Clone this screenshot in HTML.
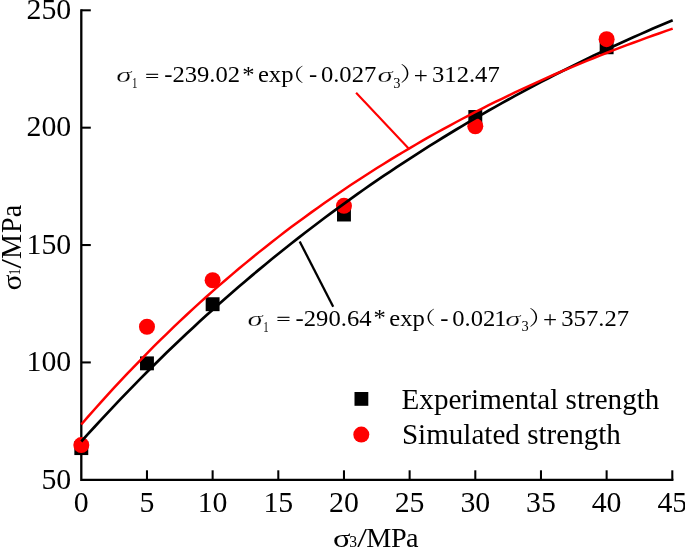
<!DOCTYPE html>
<html><head><meta charset="utf-8"><title>Strength fit</title>
<style>
html,body{margin:0;padding:0;background:#fff;}
body{width:685px;height:547px;overflow:hidden;}
svg{display:block;}
text{font-family:"Liberation Serif","Noto Serif CJK SC",serif;fill:#000;}
.tk{font-size:29.8px;}
.eq{font-size:22.6px;}
.it{font-style:italic;}
.sub{font-size:14px;}
.lg{font-size:29.1px;}
</style></head><body>
<svg width="685" height="547" viewBox="0 0 685 547">
<rect width="685" height="547" fill="#fff"/>
<g stroke="#000" stroke-width="2.3" fill="none" stroke-linecap="butt">
<path d="M81.30,9.15 V479.80 H673.45" stroke-linejoin="miter"/>
<path d="M146.97,479.80 v-9.5" stroke-width="2.05"/>
<path d="M212.63,479.80 v-9.5" stroke-width="2.05"/>
<path d="M278.30,479.80 v-9.5" stroke-width="2.05"/>
<path d="M343.97,479.80 v-9.5" stroke-width="2.05"/>
<path d="M409.63,479.80 v-9.5" stroke-width="2.05"/>
<path d="M475.30,479.80 v-9.5" stroke-width="2.05"/>
<path d="M540.97,479.80 v-9.5" stroke-width="2.05"/>
<path d="M606.63,479.80 v-9.5" stroke-width="2.05"/>
<path d="M672.30,479.80 v-9.5" stroke-width="2.05"/>
<path d="M81.30,362.43 h9.5" stroke-width="2.05"/>
<path d="M81.30,245.05 h9.5" stroke-width="2.05"/>
<path d="M81.30,127.68 h9.5" stroke-width="2.05"/>
<path d="M81.30,10.30 h9.5" stroke-width="2.05"/>
</g>
<path d="M356.1,92.8 L408.4,148.3" stroke="#f00" stroke-width="2.1" fill="none"/>
<path d="M299.7,241.5 L333.2,306.8" stroke="#000" stroke-width="2.3" fill="none"/>
<rect x="74.35" y="441.16" width="13.9" height="13.9" fill="#000"/>
<rect x="140.02" y="356.41" width="13.9" height="13.9" fill="#000"/>
<rect x="205.68" y="297.26" width="13.9" height="13.9" fill="#000"/>
<rect x="337.02" y="207.58" width="13.9" height="13.9" fill="#000"/>
<rect x="468.35" y="110.04" width="13.9" height="13.9" fill="#000"/>
<rect x="599.68" y="40.32" width="13.9" height="13.9" fill="#000"/>
<circle cx="81.30" cy="445.10" r="8.0" fill="#f00"/>
<circle cx="146.97" cy="326.74" r="8.0" fill="#f00"/>
<circle cx="212.63" cy="280.26" r="8.0" fill="#f00"/>
<circle cx="343.97" cy="205.85" r="8.0" fill="#f00"/>
<circle cx="475.30" cy="126.27" r="8.0" fill="#f00"/>
<circle cx="606.63" cy="39.17" r="8.0" fill="#f00"/>
<path d="M81.30,441.51 L87.87,434.22 L94.44,427.00 L101.01,419.87 L107.58,412.81 L114.16,405.82 L120.73,398.91 L127.30,392.08 L133.87,385.32 L140.44,378.63 L147.01,372.02 L153.58,365.47 L160.15,359.00 L166.72,352.59 L173.29,346.26 L179.87,339.99 L186.44,333.80 L193.01,327.66 L199.58,321.60 L206.15,315.60 L212.72,309.66 L219.29,303.79 L225.86,297.99 L232.43,292.24 L239.01,286.56 L245.58,280.94 L252.15,275.37 L258.72,269.87 L265.29,264.43 L271.86,259.05 L278.43,253.72 L285.00,248.46 L291.57,243.25 L298.14,238.09 L304.72,232.99 L311.29,227.95 L317.86,222.96 L324.43,218.02 L331.00,213.14 L337.57,208.31 L344.14,203.54 L350.71,198.81 L357.28,194.13 L363.85,189.51 L370.43,184.94 L377.00,180.41 L383.57,175.93 L390.14,171.51 L396.71,167.13 L403.28,162.79 L409.85,158.51 L416.42,154.27 L422.99,150.07 L429.57,145.92 L436.14,141.82 L442.71,137.76 L449.28,133.74 L455.85,129.77 L462.42,125.84 L468.99,121.95 L475.56,118.11 L482.13,114.30 L488.70,110.54 L495.28,106.82 L501.85,103.14 L508.42,99.49 L514.99,95.89 L521.56,92.33 L528.13,88.80 L534.70,85.31 L541.27,81.86 L547.84,78.45 L554.42,75.07 L560.99,71.74 L567.56,68.43 L574.13,65.16 L580.70,61.93 L587.27,58.73 L593.84,55.57 L600.41,52.44 L606.98,49.35 L613.55,46.28 L620.13,43.25 L626.70,40.26 L633.27,37.29 L639.84,34.36 L646.41,31.46 L652.98,28.59 L659.55,25.76 L666.12,22.95 L672.69,20.17" stroke="#000" stroke-width="2.7" fill="none"/>
<path d="M81.30,424.49 L87.87,416.93 L94.44,409.48 L101.01,402.12 L107.58,394.86 L114.16,387.70 L120.73,380.64 L127.30,373.67 L133.87,366.79 L140.44,360.01 L147.01,353.32 L153.58,346.72 L160.15,340.20 L166.72,333.78 L173.29,327.44 L179.87,321.18 L186.44,315.02 L193.01,308.93 L199.58,302.92 L206.15,297.00 L212.72,291.16 L219.29,285.39 L225.86,279.70 L232.43,274.09 L239.01,268.56 L245.58,263.10 L252.15,257.71 L258.72,252.39 L265.29,247.15 L271.86,241.98 L278.43,236.87 L285.00,231.84 L291.57,226.87 L298.14,221.97 L304.72,217.14 L311.29,212.37 L317.86,207.66 L324.43,203.02 L331.00,198.44 L337.57,193.92 L344.14,189.46 L350.71,185.07 L357.28,180.73 L363.85,176.45 L370.43,172.23 L377.00,168.06 L383.57,163.95 L390.14,159.90 L396.71,155.90 L403.28,151.95 L409.85,148.06 L416.42,144.22 L422.99,140.43 L429.57,136.70 L436.14,133.01 L442.71,129.37 L449.28,125.78 L455.85,122.24 L462.42,118.75 L468.99,115.30 L475.56,111.90 L482.13,108.55 L488.70,105.24 L495.28,101.98 L501.85,98.76 L508.42,95.58 L514.99,92.45 L521.56,89.36 L528.13,86.31 L534.70,83.30 L541.27,80.33 L547.84,77.40 L554.42,74.51 L560.99,71.66 L567.56,68.85 L574.13,66.07 L580.70,63.34 L587.27,60.64 L593.84,57.97 L600.41,55.34 L606.98,52.75 L613.55,50.19 L620.13,47.67 L626.70,45.18 L633.27,42.72 L639.84,40.30 L646.41,37.91 L652.98,35.55 L659.55,33.23 L666.12,30.93 L672.69,28.67" stroke="#f00" stroke-width="2.5" fill="none"/>
<text class="tk" x="81.30" y="512.3" text-anchor="middle">0</text>
<text class="tk" x="146.97" y="512.3" text-anchor="middle">5</text>
<text class="tk" x="212.63" y="512.3" text-anchor="middle">10</text>
<text class="tk" x="278.30" y="512.3" text-anchor="middle">15</text>
<text class="tk" x="343.97" y="512.3" text-anchor="middle">20</text>
<text class="tk" x="409.63" y="512.3" text-anchor="middle">25</text>
<text class="tk" x="475.30" y="512.3" text-anchor="middle">30</text>
<text class="tk" x="540.97" y="512.3" text-anchor="middle">35</text>
<text class="tk" x="606.63" y="512.3" text-anchor="middle">40</text>
<text class="tk" x="672.30" y="512.3" text-anchor="middle">45</text>
<text class="tk" x="71.2" y="488.50" text-anchor="end">50</text>
<text class="tk" x="71.2" y="371.12" text-anchor="end">100</text>
<text class="tk" x="71.2" y="253.75" text-anchor="end">150</text>
<text class="tk" x="71.2" y="136.38" text-anchor="end">200</text>
<text class="tk" x="71.2" y="19.00" text-anchor="end">250</text>
<text transform="translate(333.00,546.90) scale(1.09,0.87)" font-size="29.8">σ</text>
<text transform="translate(349.30,546.90) scale(0.95,1.0)" font-size="16.5">3</text>
<text transform="translate(357.30,546.90) scale(1.25,1.0)" font-size="28.2">/</text>
<text transform="translate(366.30,546.90) scale(1.0,1.0)" font-size="28.2">M<tspan dx="-0.5">P</tspan><tspan dx="-0.6">a</tspan></text>
<text transform="translate(20.60,290.60) rotate(-90) scale(1.0,0.9)" font-size="29.8">σ</text>
<text transform="translate(20.40,275.00) rotate(-90) scale(0.75,1.0)" font-size="16.3">1</text>
<text transform="translate(20.60,268.60) rotate(-90) scale(1.2,1.06)" font-size="28.2">/</text>
<text transform="translate(20.60,259.00) rotate(-90) scale(1.0,1.06)" font-size="28.2">M<tspan dx="1.0">P</tspan>a</text>
<rect x="354.5" y="392" width="13.8" height="13.8" fill="#000"/>
<circle cx="361.3" cy="434.6" r="8" fill="#f00"/>
<text class="lg" x="401.6" y="409">Experimental strength</text>
<text class="lg" x="401.9" y="444">Simulated strength</text>
<text transform="translate(116.20,82.20) scale(1.36,0.95)" font-size="22.6" font-style="italic" stroke="#fff" stroke-width="0.25">σ</text>
<text transform="translate(131.90,88.00) scale(0.72,1.0)" font-size="15">1</text>
<text transform="translate(145.20,81.55) scale(1.053,0.72)" font-size="23.4" stroke="#000" stroke-width="0.35">=</text>
<text transform="translate(164.20,82.00) scale(1.053,1.0)" font-size="23.4">-239.02</text>
<text transform="translate(242.20,81.60) scale(1.053,1.0)" font-size="23.4">*</text>
<text transform="translate(257.90,82.00) scale(1.053,1.0)" font-size="23.4">exp</text>
<text transform="translate(281.10,80.80) scale(1.25,1.0)" font-size="18.5">（</text>
<text transform="translate(308.90,82.00) scale(1.053,1.0)" font-size="23.4">-</text>
<text transform="translate(320.90,82.00) scale(1.053,1.0)" font-size="23.4">0.027</text>
<text transform="translate(377.50,82.20) scale(1.36,0.95)" font-size="22.6" font-style="italic" stroke="#fff" stroke-width="0.25">σ</text>
<text transform="translate(393.30,87.80) scale(1.0,1.0)" font-size="14.4">3</text>
<text transform="translate(400.00,81.30) scale(1.2,1.0)" font-size="20">）</text>
<text transform="translate(413.70,83.30) scale(1.07,1.0)" font-size="23.4">+</text>
<text transform="translate(432.00,82.00) scale(1.053,1.0)" font-size="23.4">312.47</text>
<text transform="translate(247.60,325.70) scale(1.36,0.95)" font-size="22.6" font-style="italic" stroke="#fff" stroke-width="0.25">σ</text>
<text transform="translate(263.30,331.50) scale(0.72,1.0)" font-size="15">1</text>
<text transform="translate(276.60,325.05) scale(1.053,0.72)" font-size="23.4" stroke="#000" stroke-width="0.35">=</text>
<text transform="translate(295.60,325.50) scale(1.053,1.0)" font-size="23.4">-290.64</text>
<text transform="translate(373.60,325.10) scale(1.053,1.0)" font-size="23.4">*</text>
<text transform="translate(389.30,325.50) scale(1.053,1.0)" font-size="23.4">exp</text>
<text transform="translate(412.50,324.30) scale(1.25,1.0)" font-size="18.5">（</text>
<text transform="translate(440.30,325.50) scale(1.053,1.0)" font-size="23.4">-</text>
<text transform="translate(452.30,325.50) scale(1.053,1.0)" font-size="23.4">0.02<tspan dx="-1">1</tspan></text>
<text transform="translate(505.30,325.70) scale(1.36,0.95)" font-size="22.6" font-style="italic" stroke="#fff" stroke-width="0.25">σ</text>
<text transform="translate(521.60,331.30) scale(1.0,1.0)" font-size="14.4">3</text>
<text transform="translate(528.80,324.80) scale(1.2,1.0)" font-size="20">）</text>
<text transform="translate(543.00,326.80) scale(1.07,1.0)" font-size="23.4">+</text>
<text transform="translate(561.30,325.50) scale(1.053,1.0)" font-size="23.4">357.27</text>
</svg></body></html>
